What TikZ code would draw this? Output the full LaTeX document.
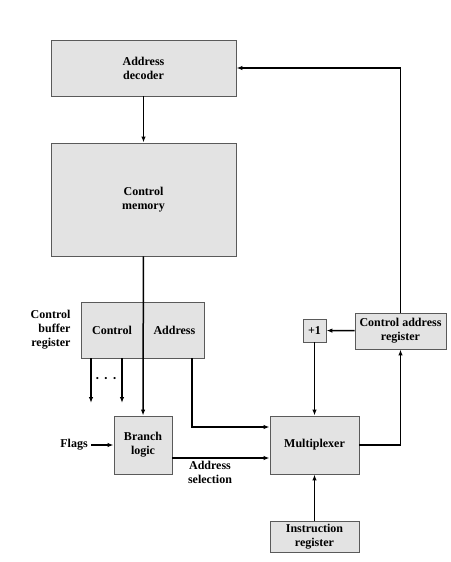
\documentclass[tikz,border=0pt]{standalone}
\usepackage{fontspec}
\setmainfont{Liberation Serif}
\usepackage{tikz}
\usetikzlibrary{arrows.meta,positioning}
\definecolor{boxgray}{RGB}{227,227,227}
\definecolor{edgegray}{RGB}{90,90,90}

\begin{document}
\begin{tikzpicture}[x=1pt,y=-1pt,
    font=\fontsize{12}{14}\selectfont\bfseries,
    unit/.style={draw=edgegray, line width=0.9pt, fill=boxgray, align=center, inner sep=0pt},
    flow/.style={line width=1.5pt, -{Latex[length=6pt,width=4.5pt]}},
    wire/.style={line width=1.5pt}]
    \useasboundingbox (0,0) rectangle (450,562);

    % Main column
    \node[unit, minimum width=185, minimum height=56] (dec) at (143.5,68) {Address\\decoder};
    \node[unit, minimum width=185, minimum height=113] (cmem) at (143.5,199.5) {Control\\memory};

    % Control buffer register (two fields)
    \node[unit, minimum width=62, minimum height=56] (cbrc) at (112,330) {Control};
    \node[unit, minimum width=61, minimum height=56, right=0 of cbrc] (cbra) {Address};
    \node[align=right, anchor=east] (cbrlbl) at (74,330) {Control\\buffer\\register};

    % Lower blocks
    \node[unit, minimum width=58, minimum height=58] (branch) at (143,445) {Branch\\logic};
    \node[unit, minimum width=89, minimum height=58] (mux) at (314.5,445) {Multiplexer};
    \node[unit, minimum width=23, minimum height=23] (plus) at (314.5,330.5) {+1};
    \node[unit, minimum width=91, minimum height=36] (car) at (400.5,331) {Control address\\register};
    \node[unit, minimum width=89, minimum height=31] (ir) at (314.5,536.5) {Instruction\\register};
    \node (flags) at (74,445) {Flags};

    % Helper points
    \coordinate (o1) at (91,403);
    \coordinate (o2) at (122,403);
    \coordinate (abus) at (192,427);
    \coordinate (sel) at (220,458);
    \node[font=\fontsize{9}{9}\selectfont] (dots) at (106,379)
      {\textbullet\hspace{5.5pt}\textbullet\hspace{5.5pt}\textbullet};
    \node[align=center] (sellbl) at (210,472) {Address\\selection};

    % Connectors
    \draw[flow] (dec) -- (cmem);
    \draw[flow] (cmem) -- (branch);
    \draw[flow] (cbrc.south -| o1) -- (o1);
    \draw[flow] (cbrc.south -| o2) -- (o2);
    \draw[flow] (flags) -- (branch);
    \draw[flow] (cbra.south -| abus) -- (abus) -- (abus -| mux.west);
    \draw[flow] (branch.east |- sel) -- (sel -| mux.west);
    \draw[flow] (mux.east) -| (car.south);
    \draw[flow] (car) -- (plus);
    \draw[flow] (plus) -- (mux);
    \draw[flow] (ir) -- (mux);
    \draw[flow] (car.north) |- (dec.east);
\end{tikzpicture}
\end{document}
